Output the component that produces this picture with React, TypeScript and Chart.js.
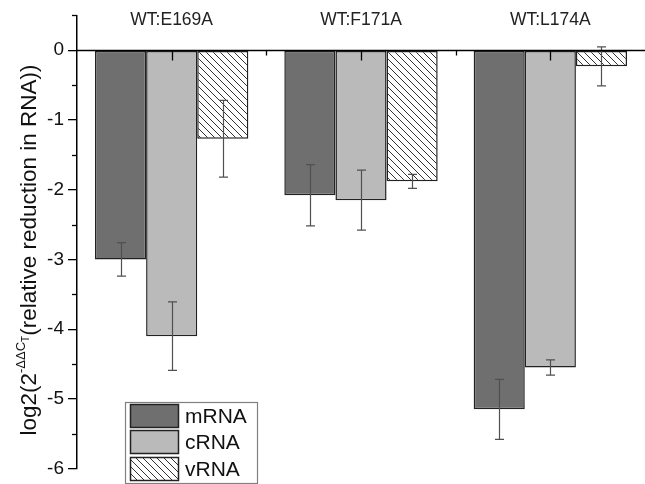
import React, { useEffect, useRef } from "react";
import { Chart, registerables } from "chart.js";

Chart.register(...registerables);

const categories = ["WT:E169A", "WT:F171A", "WT:L174A"];
const seriesNames = ["mRNA", "cRNA", "vRNA"];
const mRNA = [-3.0, -2.08, -5.15];
const cRNA = [-4.1, -2.15, -4.55];
const vRNA = [-1.27, -1.88, -0.23];
const mRNAErr = [0.24, 0.44, 0.43];
const cRNAErr = [0.49, 0.43, 0.11];
const vRNAErr = [0.55, 0.1, 0.28];
const yTicks = [-6, -5, -4, -3, -2, -1, 0];

const FONT = "'Liberation Sans', Arial, sans-serif";

function makeHatch(): CanvasPattern | string {
  const c = document.createElement("canvas");
  const s = 7;
  c.width = s;
  c.height = s;
  const g = c.getContext("2d");
  if (!g) return "#fff";
  g.fillStyle = "#fff";
  g.fillRect(0, 0, s, s);
  g.strokeStyle = "#333";
  g.lineWidth = 1;
  g.beginPath();
  g.moveTo(-1, -1);
  g.lineTo(s + 1, s + 1);
  g.moveTo(-1, s - 1);
  g.lineTo(1, s + 1);
  g.moveTo(s - 1, -1);
  g.lineTo(s + 1, 1);
  g.stroke();
  const p = g.createPattern(c, "repeat");
  return p || "#fff";
}

export default function App() {
  const ref = useRef<HTMLCanvasElement | null>(null);

  useEffect(() => {
    if (!ref.current) return;
    const hatch = makeHatch();
    const fills = ["#6f6f6f", "#bababa", hatch];
    const errs = [mRNAErr, cRNAErr, vRNAErr];

    const overlay = {
      id: "overlay",
      afterDatasetsDraw(chart: any) {
        const ctx = chart.ctx as CanvasRenderingContext2D;
        const xs = chart.scales.x;
        const ys = chart.scales.y;
        const ca = chart.chartArea;
        ctx.save();
        // error bars
        ctx.strokeStyle = "#505050";
        ctx.lineWidth = 1.2;
        errs.forEach((e, di) => {
          const meta = chart.getDatasetMeta(di);
          meta.data.forEach((el: any, j: number) => {
            const v = chart.data.datasets[di].data[j] as number;
            const yt = ys.getPixelForValue(v + e[j]);
            const yb = ys.getPixelForValue(v - e[j]);
            const x = Math.round(el.x) + 0.5;
            ctx.beginPath();
            ctx.moveTo(x, yt);
            ctx.lineTo(x, yb);
            ctx.moveTo(x - 4.5, yt);
            ctx.lineTo(x + 4.5, yt);
            ctx.moveTo(x - 4.5, yb);
            ctx.lineTo(x + 4.5, yb);
            ctx.stroke();
          });
        });
        // zero line
        const y0 = Math.round(ys.getPixelForValue(0)) + 0.5;
        ctx.strokeStyle = "#000";
        ctx.lineWidth = 1.5;
        ctx.beginPath();
        ctx.moveTo(ca.left, y0);
        ctx.lineTo(chart.width, y0);
        ctx.stroke();
        // x ticks
        ctx.lineWidth = 1.3;
        categories.forEach((_, j) => {
          const xc = Math.round(xs.getPixelForValue(j)) + 0.5;
          ctx.beginPath();
          ctx.moveTo(xc, y0);
          ctx.lineTo(xc, y0 + 10);
          ctx.stroke();
          if (j < categories.length - 1) {
            const xm = Math.round((xs.getPixelForValue(j) + xs.getPixelForValue(j + 1)) / 2) + 0.5;
            ctx.beginPath();
            ctx.moveTo(xm, y0);
            ctx.lineTo(xm, y0 + 5);
            ctx.stroke();
          }
        });
        // category labels
        ctx.fillStyle = "#222";
        ctx.font = `17.5px ${FONT}`;
        ctx.textAlign = "center";
        ctx.textBaseline = "middle";
        categories.forEach((c, j) => {
          ctx.fillText(c, xs.getPixelForValue(j), 20);
        });
        // y minor ticks
        ctx.strokeStyle = "#000";
        ctx.lineWidth = 1.3;
        for (let v = -5.5; v <= 0.5; v += 1) {
          const y = Math.round(ys.getPixelForValue(v)) + 0.5;
          ctx.beginPath();
          ctx.moveTo(ca.left - 5, y);
          ctx.lineTo(ca.left, y);
          ctx.stroke();
        }
        // legend
        const lx = 125, ly = 402, lw = 132, lh = 81;
        ctx.fillStyle = "#fff";
        ctx.fillRect(lx, ly, lw, lh);
        ctx.strokeStyle = "#808080";
        ctx.lineWidth = 1.2;
        ctx.strokeRect(lx + 0.5, ly + 0.5, lw, lh);
        const rows = [404, 430, 457];
        seriesNames.forEach((n, i) => {
          ctx.fillStyle = fills[i] as any;
          ctx.fillRect(130, rows[i], 48, 23);
          ctx.strokeStyle = "#222";
          ctx.lineWidth = 1.5;
          ctx.strokeRect(130.5, rows[i] + 0.5, 48, 23);
          ctx.fillStyle = "#111";
          ctx.font = `21px ${FONT}`;
          ctx.textAlign = "left";
          ctx.textBaseline = "middle";
          ctx.fillText(n, 185, rows[i] + 13);
        });
        // y title
        ctx.translate(36, 250);
        ctx.rotate(-Math.PI / 2);
        ctx.fillStyle = "#111";
        ctx.textBaseline = "alphabetic";
        ctx.textAlign = "left";
        const mainF = `22.5px ${FONT}`;
        const supF = `13px ${FONT}`;
        const subF = `10px ${FONT}`;
        const p1 = "log2(2";
        const p2 = "-\u0394\u0394C";
        const p3 = "T";
        const p4 = "(relative reduction in RNA))";
        ctx.font = mainF;
        const w1 = ctx.measureText(p1).width;
        const w4 = ctx.measureText(p4).width;
        ctx.font = supF;
        const w2 = ctx.measureText(p2).width;
        ctx.font = subF;
        const w3 = ctx.measureText(p3).width;
        const total = w1 + w2 + w3 + w4;
        let x = -total / 2;
        ctx.font = mainF;
        ctx.fillText(p1, x, 0);
        x += w1;
        ctx.font = supF;
        ctx.fillText(p2, x, -11);
        x += w2;
        ctx.font = subF;
        ctx.fillText(p3, x, -7);
        x += w3;
        ctx.font = mainF;
        ctx.fillText(p4, x, 0);
        ctx.restore();
      },
    };

    const chart = new Chart(ref.current, {
      type: "bar",
      data: {
        labels: categories,
        datasets: [mRNA, cRNA, vRNA].map((d, i) => ({
          label: seriesNames[i],
          data: d,
          backgroundColor: fills[i] as any,
          borderColor: "#222",
          borderWidth: 1.5,
          borderSkipped: false,
          barPercentage: 1,
          categoryPercentage: 0.81,
        })),
      },
      options: {
        animation: false,
        responsive: false,
        maintainAspectRatio: false,
        layout: { padding: { top: 15, bottom: 7, left: 0, right: 0 } },
        plugins: { legend: { display: false }, tooltip: { enabled: false } },
        scales: {
          x: { display: false, offset: true },
          y: {
            min: -6,
            max: 0.5,
            afterBuildTicks: (s: any) => {
              s.ticks = yTicks.map((v) => ({ value: v }));
            },
            afterFit: (s: any) => {
              s.width = 77;
            },
            border: { display: true, color: "#000", width: 1.5 },
            grid: {
              display: true,
              drawOnChartArea: false,
              drawTicks: true,
              tickLength: 9,
              color: "#000",
              lineWidth: 1.3,
            },
            ticks: {
              padding: 4,
              color: "#111",
              font: { family: FONT, size: 19 },
              callback: (v: any) => String(v),
            },
          },
        },
      },
      plugins: [overlay],
    });
    return () => chart.destroy();
  }, []);

  return (
    <div style={{ position: "absolute", left: 0, top: 0, width: 645, height: 484, background: "#fff" }}>
      <canvas ref={ref} width={645} height={484} style={{ display: "block" }} />
    </div>
  );
}
